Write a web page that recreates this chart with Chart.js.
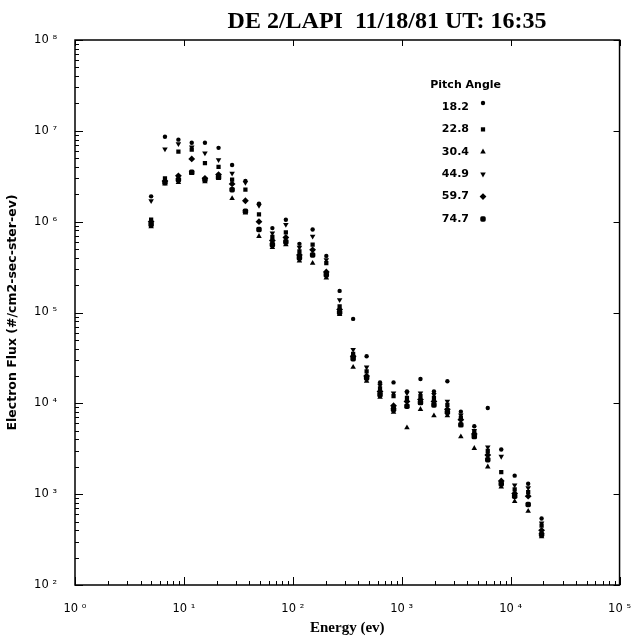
<!DOCTYPE html>
<html>
<head>
<meta charset="utf-8">
<title>DE 2/LAPI 11/18/81 UT: 16:35</title>
<script src="https://cdn.jsdelivr.net/npm/chart.js@4.4.1/dist/chart.umd.min.js"></script>
<style>
  html, body { margin: 0; padding: 0; background: #fff; }
  #wrap { width: 640px; height: 638px; }
</style>
</head>
<body>
<div id="wrap"><canvas id="fluxChart" width="640" height="638"></canvas></div>
<script>
(function () {
    'use strict';

    // ── Data ───────────────────────────────────────────────
    const energy = [5.0, 6.7, 8.9, 11.8, 15.6, 20.8, 27.7, 36.7, 48.9, 64.9,
        86.3, 115, 152, 203, 269, 358, 476, 632, 841, 1117,
        1486, 1976, 2625, 3490, 4638, 6166, 8199, 10890, 14490, 19240];

    const flux182 = [1.9e6, 8.6e6, 8.0e6, 7.4e6, 7.4e6, 6.5e6, 4.2e6, 2.8e6, 1.58e6, 8.5e5,
        1.05e6, 5.7e5, 8.2e5, 4.2e5, 1.73e5, 8.5e4, 3.3e4, 1.7e4, 1.7e4, 1.35e4,
        1.85e4, 1.35e4, 1.75e4, 8.1e3, 5.6e3, 8.9e3, 3.1e3, 1.6e3, 1.3e3, 540];
    const flux228 = [1.05e6, 3.0e6, 5.9e6, 6.2e6, 4.4e6, 4.0e6, 2.9e6, 2.25e6, 1.2e6, 6.8e5,
        7.6e5, 4.7e5, 5.6e5, 3.5e5, 1.17e5, 3.5e4, 2.25e4, 1.46e4, 1.2e4, 1.15e4,
        1.2e4, 1.15e4, 9.6e3, 6.9e3, 4.8e3, 3.0e3, 1.75e3, 1.13e3, 1.05e3, 450];
    const flux304 = [8.8e5, 2.6e6, 2.7e6, 3.4e6, 2.75e6, 3.0e6, 1.8e6, 1.25e6, 6.9e5, 5.2e5,
        5.6e5, 3.7e5, 3.5e5, 2.4e5, 9.5e4, 2.5e4, 1.75e4, 1.17e4, 8.0e3, 5.4e3,
        8.6e3, 7.3e3, 7.3e3, 4.3e3, 3.2e3, 2.0e3, 1.2e3, 830, 650, 340];
    const flux449 = [1.7e6, 6.3e6, 7.2e6, 6.6e6, 5.7e6, 4.8e6, 3.4e6, 2.7e6, 1.5e6, 7.5e5,
        9.3e5, 5.2e5, 6.9e5, 3.8e5, 1.38e5, 3.9e4, 2.5e4, 1.58e4, 1.3e4, 1.3e4,
        1.3e4, 1.25e4, 1.05e4, 7.4e3, 5.0e3, 3.3e3, 2.6e3, 1.26e3, 1.17e3, 480];
    const flux597 = [1.0e6, 2.8e6, 3.2e6, 4.9e6, 3.0e6, 3.3e6, 2.6e6, 1.7e6, 1.0e6, 6.2e5,
        6.7e5, 4.3e5, 4.9e5, 2.8e5, 1.08e5, 3.3e4, 2.0e4, 1.35e4, 9.4e3, 1.05e4,
        1.1e4, 1.05e4, 8.6e3, 6.6e3, 4.6e3, 2.7e3, 1.4e3, 1.02e3, 950, 400];
    const flux747 = [9.3e5, 2.7e6, 2.9e6, 3.5e6, 2.9e6, 3.1e6, 2.25e6, 1.3e6, 8.2e5, 5.6e5,
        6.0e5, 4.0e5, 4.3e5, 2.6e5, 1.0e5, 3.1e4, 1.9e4, 1.25e4, 8.6e3, 9.3e3,
        1.02e4, 9.6e3, 8.0e3, 5.8e3, 4.3e3, 2.4e3, 1.3e3, 950, 770, 360];

    const pitchAngles = ['18.2', '22.8', '30.4', '44.9', '59.7', '74.7'];

    const xDecades = [1, 10, 100, 1000, 10000, 100000];
    const yDecades = [1e2, 1e3, 1e4, 1e5, 1e6, 1e7, 1e8];
    const minorSteps = [2, 3, 4, 5, 6, 7, 8, 9];
    const supDigits = ['⁰', '¹', '²', '³', '⁴', '⁵', '⁶', '⁷', '⁸', '⁹'];

    // ── Helpers ─────────────────────────────
    function logTicks(decades) {
        const out = [];
        decades.forEach((d, i) => {
            out.push({ value: d, major: true });
            if (i < decades.length - 1) minorSteps.forEach(m => out.push({ value: d * m, major: false }));
        });
        return out;
    }

    function powLabel(v) {
        const e = Math.round(Math.log10(v));
        return '10 ' + supDigits[e];
    }

    function series(values) {
        return values.map((v, i) => ({ x: energy[i], y: v }));
    }

    const frame = {
        id: 'frame',
        afterDatasetsDraw(chart) {
            const { ctx, chartArea: a, scales } = chart;
            ctx.save();
            ctx.strokeStyle = '#000';
            ctx.lineWidth = 1.5;
            ctx.strokeRect(a.left, a.top, a.right - a.left, a.bottom - a.top);
            ctx.lineWidth = 1;
            ctx.beginPath();
            scales.x.ticks.forEach(t => {
                const px = Math.round(scales.x.getPixelForValue(t.value)) + 0.5;
                ctx.moveTo(px, a.bottom);
                ctx.lineTo(px, a.bottom - (t.major ? 8 : 4));
                if (t.major) { ctx.moveTo(px, a.top); ctx.lineTo(px, a.top + 6); }
            });
            scales.y.ticks.forEach(t => {
                const py = Math.round(scales.y.getPixelForValue(t.value)) + 0.5;
                ctx.moveTo(a.left, py);
                ctx.lineTo(a.left + (t.major ? 8 : 4), py);
                if (t.major) { ctx.moveTo(a.right, py); ctx.lineTo(a.right - 6, py); }
            });
            ctx.stroke();
            ctx.restore();
        },
        afterDraw(chart) {
            const ctx = chart.ctx;
            ctx.save();
            ctx.fillStyle = '#000';
            // title
            ctx.font = 'bold 24px "Liberation Serif", serif';
            ctx.textAlign = 'center';
            ctx.textBaseline = 'alphabetic';
            ctx.fillText('DE 2/LAPI  11/18/81 UT: 16:35', 387, 28);
            // legend
            ctx.font = 'bold 11px "DejaVu Sans", sans-serif';
            ctx.textAlign = 'right';
            ctx.textBaseline = 'middle';
            ctx.fillText('Pitch Angle', 501, 85);
            chart.data.datasets.forEach((ds, i) => {
                const y = 107 + i * 22.4;
                ctx.fillText(ds.label, 469, y);
                Chart.helpers.drawPoint(ctx, {
                    pointStyle: ds.pointStyle,
                    rotation: ds.pointRotation || 0,
                    radius: ds.pointRadius,
                    borderWidth: 0
                }, 483, i === 0 ? y - 4 : y);
            });
            ctx.restore();
        }
    };

    const styles = [
        { pointStyle: 'circle', pointRadius: 2.2 },
        { pointStyle: 'rect', pointRadius: 3 },
        { pointStyle: 'triangle', pointRadius: 3.2 },
        { pointStyle: 'triangle', pointRadius: 3.2, pointRotation: 180 },
        { pointStyle: 'rectRot', pointRadius: 3.4 },
        { pointStyle: 'rectRounded', pointRadius: 3.2 }
    ];
    const fluxes = [flux182, flux228, flux304, flux449, flux597, flux747];

    const datasets = fluxes.map((f, i) => Object.assign({
        label: pitchAngles[i],
        data: series(f),
        backgroundColor: '#000',
        borderColor: '#000',
        borderWidth: 0,
        pointBorderWidth: 0
    }, styles[i]));

    const tickFont = { family: '"DejaVu Sans", sans-serif', size: 11.5 };

    new Chart(document.getElementById('fluxChart'), {
        type: 'scatter',
        data: { datasets },
        options: {
            responsive: false,
            animation: false,
            events: [],
            layout: { padding: { top: 40, right: 16, left: 0, bottom: 0 } },
            plugins: { legend: { display: false }, tooltip: { enabled: false }, title: { display: false } },
            scales: {
                x: {
                    type: 'logarithmic', position: 'bottom', min: 1, max: 1e5,
                    afterBuildTicks: s => { s.ticks = logTicks(xDecades); },
                    afterFit: s => { s.height = 53; },
                    grid: { display: false }, border: { display: false },
                    ticks: { autoSkip: false, maxRotation: 0, padding: 9, color: '#000', font: tickFont,
                        callback: (v, i, t) => t[i].major ? powLabel(v) : '' },
                    title: { display: true, text: 'Energy (ev)', color: '#000',
                        font: { family: '"Liberation Serif", serif', weight: 'bold', size: 15 },
                        padding: { top: 0, bottom: 1 } }
                },
                y: {
                    type: 'logarithmic', position: 'left', min: 1e2, max: 1e8,
                    afterBuildTicks: s => { s.ticks = logTicks(yDecades); },
                    afterFit: s => { s.width = 75; },
                    grid: { display: false }, border: { display: false },
                    ticks: { autoSkip: false, padding: 10, color: '#000', font: tickFont,
                        callback: (v, i, t) => t[i].major ? powLabel(v) : '' },
                    title: { display: true, text: 'Electron Flux (#/cm2-sec-ster-ev)', color: '#000',
                        font: { family: '"DejaVu Sans", sans-serif', weight: 'bold', size: 12.5 },
                        padding: { top: 5, bottom: 0 } }
                }
            }
        },
        plugins: [frame]
    });
})();
</script>
</body>
</html>
